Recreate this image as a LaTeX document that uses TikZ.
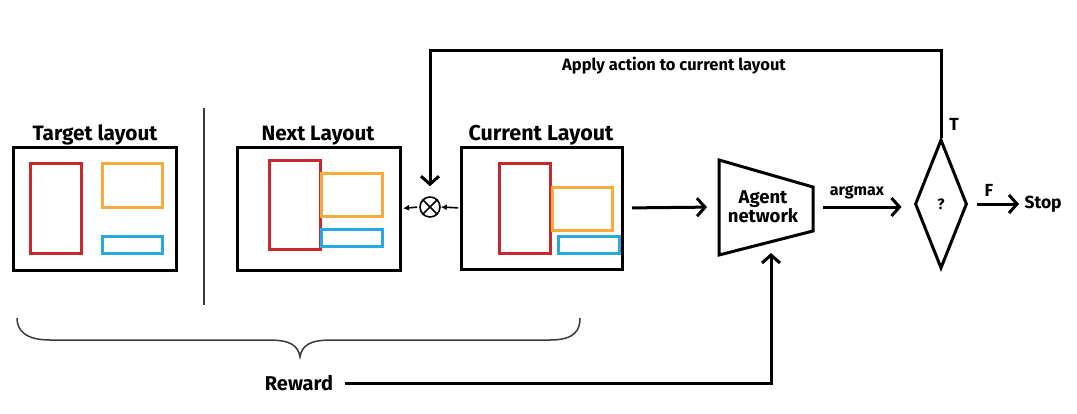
\documentclass[tikz,border=0pt]{standalone}
\usepackage{fontspec}
\setmainfont{Fira Sans}
\usetikzlibrary{arrows.meta,shapes.geometric}
\definecolor{lred}{HTML}{C8272D}
\definecolor{lorange}{HTML}{F8AA3C}
\definecolor{lblue}{HTML}{2AA9E0}
\definecolor{divgray}{HTML}{3A3A3A}
\tikzset{
  frame/.style={draw=black, line width=3pt, inner sep=0pt, outer sep=0pt},
  rrect/.style={draw=lred, line width=3pt},
  orect/.style={draw=lorange, line width=3pt},
  brect/.style={draw=lblue, line width=3pt},
  title/.style={font=\fontsize{20.8}{24}\selectfont\bfseries, anchor=base},
  arr/.style={line width=3pt, -{Straight Barb[length=8pt,width=18pt,line width=3pt]}},
  sarr/.style={line width=1.6pt, -{Latex[length=6pt,width=6pt]}},
  lbl/.style={font=\fontsize{17.5}{20}\selectfont\bfseries},
}
\begin{document}
\begin{tikzpicture}[x=1pt,y=-1pt]
\useasboundingbox (0,0) rectangle (1077,413);
% Target layout
\node[title] (tgtlbl) at (95,140) {Target layout};
\draw[frame] (13,147) rectangle (176,270);
\draw[rrect] (30,163) rectangle (81,253);
\draw[orect] (102,163) rectangle (162,207);
\draw[brect] (102,236) rectangle (162,253);
% divider
\draw[divgray, line width=2.5pt] (204,108) -- (204,305);
% Next layout
\node[title] (nxtlbl) at (318,140) {Next Layout};
\node[frame, minimum width=163pt, minimum height=123pt] (nxt) at (318.5,208.5) {};
\draw[rrect] (269,160) rectangle (320,249);
\draw[orect] (321,173) rectangle (382,216);
\draw[brect] (321,229) rectangle (382,246);
% Current layout
\node[title, font=\fontsize{21.5}{24}\selectfont\bfseries] (curlbl) at (541,140) {Current Layout};
\node[frame, minimum width=161pt, minimum height=122pt] (cur) at (541.5,208) {};
\draw[rrect] (499,163) rectangle (550,253);
\draw[orect] (552,187) rectangle (612,230);
\draw[brect] (558,236) rectangle (619,253);
% otimes
\node[circle, draw, line width=1.6pt, minimum size=20pt, inner sep=0pt] (ot) at (430,207) {};
\draw[line width=1.6pt] (ot.north east) -- (ot.south west) (ot.north west) -- (ot.south east);
\draw[sarr, shorten <=3pt] (cur.west) -- (ot.east);
\draw[sarr, shorten <=2pt, shorten >=3pt] (ot.west) -- (nxt.east);
% Agent network trapezoid
\coordinate (agentL) at (719,207);
\coordinate (agentR) at (813,207);
\coordinate (agentB) at (771,253);
\draw[line width=3pt, line join=miter] (719,160) -- (813,187) -- (813,231) -- (719,255) -- cycle;
\node[font=\fontsize{18.5}{21}\selectfont\bfseries, align=center] (agent) at (763,207) {Agent\\[-2pt]network};
\draw[arr, shorten <=10pt, shorten >=12pt] (cur.east) -- (agentL);
% decision
\node[diamond, draw, line width=3pt, minimum width=52pt, minimum height=129pt, inner sep=0pt, font=\fontsize{15}{17}\selectfont\bfseries, aspect=0.4] (dec) at (941,204) {?};
\draw[arr, shorten <=10pt, shorten >=12pt] (agentR) -- (dec.west |- agentR);
\node[font=\fontsize{16}{18}\selectfont\bfseries] (argmax) at (857,192) {argmax};
\node[lbl, anchor=west] (stop) at (1021,204) {Stop};
\draw[arr, shorten <=8pt, shorten >=2pt] (dec.east) -- (stop.west |- dec.east);
\node[lbl] (flbl) at (989,190) {F};
\node[lbl] (tlbl) at (954,124) {T};
% loop back
\coordinate (loop) at (430,50);
\draw[arr, line join=miter, shorten >=10pt] (dec.north) |- (loop) -- (ot.north);
\node[font=\fontsize{16.5}{19}\selectfont\bfseries] (apply) at (674,66) {Apply action to current layout};
% brace
\draw[line width=1.5pt, divgray] (17,318) .. controls (17,330) and (25,340) .. (50,340) -- (268,340) .. controls (290,340) and (298,345) .. (300,357) .. controls (302,345) and (310,340) .. (332,340) -- (550,340) .. controls (575,340) and (580,330) .. (580,318);
% reward
\node[font=\fontsize{20}{23}\selectfont\bfseries] (reward) at (299,383) {Reward};
\draw[arr, shorten <=8pt] (reward.east) -| (agentB);
\end{tikzpicture}
\end{document}
